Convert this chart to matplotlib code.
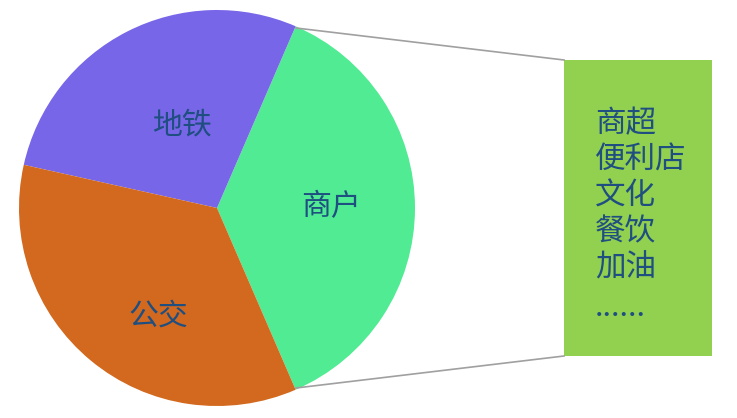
import matplotlib
matplotlib.use("Agg")
import matplotlib.pyplot as plt
from matplotlib.patches import Rectangle

plt.rcParams['font.family'] = ['Noto Sans CJK SC', 'DejaVu Sans']

categories = ['商户', '地铁', '公交']
values = [37, 28, 35]
colors = ['#50EB93', '#7766E8', '#D2691E']
box_items = ['商超', '便利店', '文化', '餐饮', '加油', '......']

W, H = 737, 418
fig = plt.figure(figsize=(W / 100, H / 100), dpi=100)
ax = fig.add_axes([0, 0, 1, 1])

cx, cy, r = 217, H - 208, 198
start = -66.6
wedges, _ = ax.pie(values, colors=colors, startangle=start, counterclock=True,
                   center=(cx, cy), radius=r, frame=True,
                   wedgeprops=dict(linewidth=0))
ax.set_xlim(0, W)
ax.set_ylim(0, H)
ax.axis('off')

txt_color = '#1F4E80'
label_pos = {'地铁': (182, 125), '商户': (331, 207), '公交': (158, 316)}
for name in categories:
    x, y = label_pos[name]
    ax.text(x, H - y, name, ha='center', va='center', fontsize=21.5,
            color=txt_color)

# connector lines
ax.plot([296, 564], [H - 28, H - 60], color='#A0A0A0', lw=1.2)
ax.plot([296, 564], [H - 388, H - 356], color='#A0A0A0', lw=1.2)

# box
ax.add_patch(Rectangle((564, H - 356), 148, 296, facecolor='#92D050',
                       edgecolor='none'))
for i, item in enumerate(box_items):
    y = 124 + 36 * i + (4 if i == len(box_items) - 1 else 0)
    ax.text(595, H - y, item, ha='left', va='center', fontsize=22,
            color=txt_color)

fig.savefig('out.png', dpi=100)
